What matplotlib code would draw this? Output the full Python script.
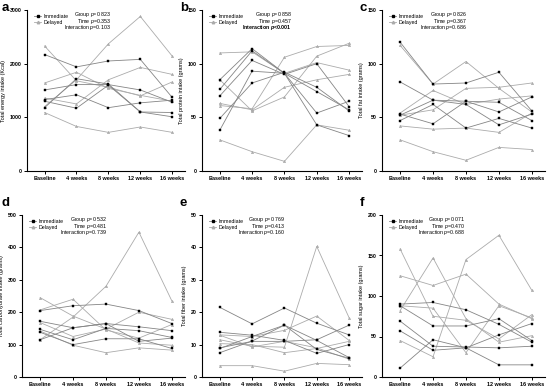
import matplotlib
matplotlib.use("Agg")
import matplotlib.pyplot as plt
from matplotlib.lines import Line2D

plt.rcParams['font.family'] = ['Liberation Sans', 'DejaVu Sans']
plt.rcParams['mathtext.fontset'] = 'custom'
plt.rcParams['mathtext.rm'] = 'Liberation Sans'
plt.rcParams['mathtext.it'] = 'Liberation Sans:italic'
plt.rcParams['mathtext.bf'] = 'Liberation Sans:bold'
plt.rcParams['mathtext.bfit'] = 'Liberation Sans:italic:bold'

timepoints = ["Baseline", "4 weeks", "8 weeks", "12 weeks", "16 weeks"]

# Panel a: energy (Kcal)
energy_immediate = [
    [2170, 1940, 2050, 2080, 1370],
    [1510, 1610, 1610, 1510, 1280],
    [1330, 1420, 1180, 1270, 1320],
    [1180, 1720, 1620, 1100, 1010],
    [1300, 1170, 1600, 1100, 1090],
]
energy_delayed = [
    [2330, 1680, 1560, 1400, 1660],
    [1640, 1840, 1540, 1410, 1300],
    [1200, 1700, 2370, 2880, 2140],
    [1360, 1250, 1700, 1930, 1800],
    [1090, 830, 720, 820, 720],
]
# Panel b: protein (g)
protein_immediate = [
    [85, 114, 91, 43, 33],
    [76, 112, 91, 74, 57],
    [70, 103, 90, 100, 60],
    [49, 82, 92, 78, 56],
    [38, 93, 91, 54, 65],
]
protein_delayed = [
    [110, 111, 91, 101, 94],
    [85, 56, 69, 107, 119],
    [61, 58, 106, 116, 117],
    [63, 57, 78, 85, 90],
    [29, 18, 9, 43, 38],
]
# Panel c: fat (g)
fat_immediate = [
    [120, 81, 82, 92, 56],
    [83, 66, 65, 64, 47],
    [53, 44, 65, 55, 69],
    [47, 62, 40, 49, 40],
    [52, 66, 62, 43, 53],
]
fat_delayed = [
    [117, 81, 102, 77, 55],
    [54, 75, 62, 67, 70],
    [52, 57, 77, 78, 82],
    [42, 39, 40, 36, 54],
    [29, 18, 10, 22, 20],
]
# Panel d: carbohydrate (g)
carb_immediate = [
    [205, 220, 225, 205, 165],
    [172, 152, 165, 155, 143],
    [147, 115, 150, 143, 122],
    [138, 100, 118, 118, 88],
    [115, 152, 165, 110, 120],
]
carb_delayed = [
    [115, 185, 280, 447, 235],
    [245, 188, 148, 105, 98],
    [207, 240, 145, 120, 162],
    [168, 125, 148, 200, 178],
    [142, 98, 75, 90, 83],
]
# Panel e: fiber (g)
fiber_immediate = [
    [21.5, 16.4, 21.3, 16.6, 13.0],
    [13.8, 12.9, 11.3, 7.3, 10.0],
    [9.0, 11.0, 11.0, 11.5, 16.0],
    [8.8, 12.5, 16.0, 8.5, 5.8],
    [7.5, 11.1, 16.0, 11.3, 6.0],
]
fiber_delayed = [
    [11.5, 9.5, 9.2, 40.3, 18.3],
    [13.0, 12.5, 14.4, 18.8, 11.3],
    [10.3, 10.0, 7.5, 8.8, 11.0],
    [3.5, 3.5, 1.8, 4.2, 3.8],
    [12.9, 9.3, 11.0, 9.0, 5.5],
]
# Panel f: sugar (g)
sugar_immediate = [
    [90, 92, 83, 65, 43],
    [88, 63, 63, 72, 45],
    [69, 38, 37, 36, 38],
    [57, 33, 36, 52, 66],
    [11, 46, 36, 15, 15],
]
sugar_delayed = [
    [158, 75, 70, 47, 77],
    [125, 113, 127, 90, 72],
    [82, 147, 72, 43, 51],
    [45, 25, 145, 175, 107],
    [88, 85, 30, 88, 73],
]

ylabels = ["Total energy intake (Kcal)", "Total protein intake (grams)",
           "Total fat intake (grams)", "Total carbohydrate intake (grams)",
           "Total fiber intake (grams)", "Total sugar intake (grams)"]
yticks = [[0, 1000, 2000, 3000], [0, 50, 100, 150], [0, 50, 100, 150],
          [0, 100, 200, 300, 400, 500], [0, 10, 20, 30, 40, 50],
          [0, 50, 100, 150, 200]]
group_p = ["0.823", "0.858", "0.826", "0.532", "0.769", "0.071"]
time_p = ["0.353", "0.457", "0.367", "0.481", "0.413", "0.470"]
inter_p = ["=0.103", "<0.001", "=0.686", "=0.739", "=0.160", "=0.688"]
letters = ["a", "b", "c", "d", "e", "f"]

data = [(energy_immediate, energy_delayed), (protein_immediate, protein_delayed),
        (fat_immediate, fat_delayed), (carb_immediate, carb_delayed),
        (fiber_immediate, fiber_delayed), (sugar_immediate, sugar_delayed)]

W, H = 550, 391
# pixel boxes: left, right, top, bottom
boxes = [(27, 185, 10, 171), (202, 362, 10, 171), (382, 545, 10, 171),
         (22, 185, 215, 377), (202, 362, 215, 377), (382, 545, 215, 377)]
letter_pos = [(2, 8), (180, 8), (360, 8), (2, 203), (180, 203), (360, 203)]
stat_x = [0.53, 0.56, 0.52, 0.52, 0.52, 0.51]

fig = plt.figure(figsize=(5.5, 3.91), dpi=100)
col_imm = '#858585'
col_del = '#ababab'
x = list(range(len(timepoints)))

for i in range(6):
    l, r, t, b = boxes[i]
    ax = fig.add_axes([l / W, 1 - b / H, (r - l) / W, (b - t) / H])
    imm, dl = data[i]
    for s in dl:
        ax.plot(x, s, color=col_del, lw=0.6, marker='^', ms=1.8,
                mfc=col_del, mec=col_del, mew=0.3)
    for s in imm:
        ax.plot(x, s, color=col_imm, lw=0.6, marker='s', ms=1.6,
                mfc='black', mec='black', mew=0.3)
    ax.set_xlim(-0.55, 4.4)
    ax.set_ylim(0, yticks[i][-1])
    ax.set_yticks(yticks[i])
    ax.set_xticks(x)
    ax.set_xticklabels(timepoints, fontsize=4, fontweight='bold')
    for lab in ax.get_yticklabels():
        lab.set_fontsize(3.8)
        lab.set_fontweight('bold')
    ax.set_ylabel(ylabels[i], fontsize=4, labelpad=3)
    for side in ['top', 'right']:
        ax.spines[side].set_visible(False)
    for side in ['left', 'bottom']:
        ax.spines[side].set_linewidth(0.8)
    ax.tick_params(length=2.2, width=0.7, pad=1.5)

    handles = [Line2D([0], [0], color=col_imm, lw=0.6, marker='s', ms=1.6,
                      mfc='black', mec='black'),
               Line2D([0], [0], color=col_del, lw=0.6, marker='^', ms=1.8,
                      mfc=col_del, mec=col_del)]
    ax.legend(handles, ["Immediate", "Delayed"], loc='upper left',
              bbox_to_anchor=(0.02, 1.0), frameon=False, fontsize=3.8,
              handlelength=1.4, handletextpad=0.4, labelspacing=0.25,
              borderpad=0.2)
    ax.text(stat_x[i], 0.97, r"Group $p$=" + group_p[i], transform=ax.transAxes,
            ha='right', va='center', fontsize=3.8)
    ax.text(stat_x[i], 0.93, r"Time $p$=" + time_p[i], transform=ax.transAxes,
            ha='right', va='center', fontsize=3.8)
    if i == 1:
        ax.text(stat_x[i], 0.89, r"Interaction $\mathbfit{p}$" + inter_p[i],
                transform=ax.transAxes, ha='right', va='center', fontsize=3.8,
                fontweight='bold')
    else:
        ax.text(stat_x[i], 0.89, r"Interaction $p$" + inter_p[i],
                transform=ax.transAxes, ha='right', va='center', fontsize=3.8)
    lx, ly = letter_pos[i]
    fig.text(lx / W, 1 - ly / H, letters[i], fontsize=9.5, fontweight='bold',
             ha='left', va='center')

fig.savefig("out.png", dpi=100)
